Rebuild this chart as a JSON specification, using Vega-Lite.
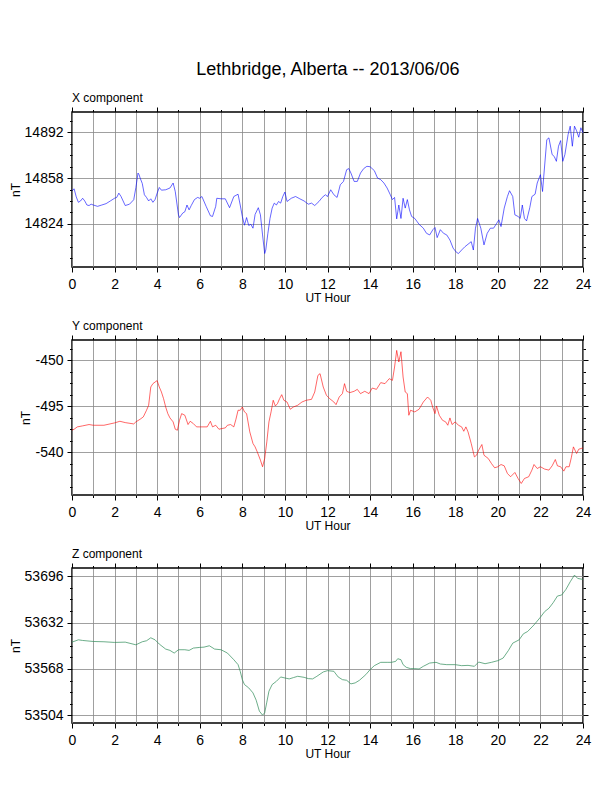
{
"$schema": "https://vega.github.io/schema/vega-lite/v6.json",
"padding": {"left": 8, "top": 60, "right": 5, "bottom": 5},
"background": "white",
"title": {"text": "Lethbridge, Alberta -- 2013/06/06", "font": "Liberation Sans", "fontSize": 18, "fontWeight": "normal", "color": "black", "anchor": "middle", "dx": 28, "offset": 12},
"spacing": 14,
"datasets": {
"X": [{"h":0,"v":14848.6},{"h":0.1,"v":14850},{"h":0.2,"v":14844},{"h":0.3,"v":14840},{"h":0.4,"v":14841},{"h":0.5,"v":14843},{"h":0.6,"v":14841},{"h":0.7,"v":14838},{"h":0.8,"v":14837.6},{"h":0.9,"v":14838.6},{"h":1.0,"v":14838},{"h":1.2,"v":14837},{"h":1.4,"v":14838},{"h":1.6,"v":14839},{"h":1.8,"v":14841},{"h":2.0,"v":14843},{"h":2.1,"v":14843.6},{"h":2.2,"v":14846.8},{"h":2.3,"v":14844.4},{"h":2.5,"v":14837.6},{"h":2.7,"v":14838.6},{"h":2.9,"v":14841.9},{"h":3.0,"v":14851},{"h":3.1,"v":14861.7},{"h":3.15,"v":14860.5},{"h":3.2,"v":14858},{"h":3.3,"v":14854},{"h":3.4,"v":14845.6},{"h":3.5,"v":14843.6},{"h":3.6,"v":14841},{"h":3.7,"v":14842.6},{"h":3.8,"v":14840},{"h":3.9,"v":14842},{"h":4.0,"v":14846.8},{"h":4.1,"v":14851},{"h":4.2,"v":14849},{"h":4.4,"v":14849.3},{"h":4.6,"v":14850.6},{"h":4.75,"v":14854.3},{"h":4.85,"v":14848},{"h":5.0,"v":14830.7},{"h":5.05,"v":14828.7},{"h":5.2,"v":14832},{"h":5.3,"v":14833},{"h":5.4,"v":14838},{"h":5.5,"v":14834.4},{"h":5.6,"v":14837.6},{"h":5.75,"v":14842},{"h":5.9,"v":14843.6},{"h":6.0,"v":14843},{"h":6.1,"v":14844.3},{"h":6.3,"v":14837},{"h":6.5,"v":14830},{"h":6.6,"v":14829.5},{"h":6.75,"v":14837},{"h":6.8,"v":14843},{"h":7.0,"v":14842.6},{"h":7.2,"v":14842.6},{"h":7.4,"v":14836},{"h":7.6,"v":14844.3},{"h":7.8,"v":14846},{"h":7.9,"v":14838},{"h":8.0,"v":14829.5},{"h":8.1,"v":14823},{"h":8.2,"v":14828.7},{"h":8.3,"v":14822.8},{"h":8.4,"v":14823.7},{"h":8.5,"v":14820.8},{"h":8.6,"v":14831},{"h":8.75,"v":14836},{"h":8.85,"v":14830.7},{"h":8.95,"v":14815.8},{"h":9.05,"v":14802},{"h":9.1,"v":14804.6},{"h":9.2,"v":14817},{"h":9.3,"v":14828},{"h":9.4,"v":14835.7},{"h":9.5,"v":14839.4},{"h":9.6,"v":14838},{"h":9.7,"v":14840.6},{"h":9.8,"v":14839.4},{"h":9.9,"v":14844.3},{"h":10.0,"v":14847.6},{"h":10.1,"v":14840.6},{"h":10.3,"v":14843},{"h":10.5,"v":14844.3},{"h":10.7,"v":14842.6},{"h":10.9,"v":14841},{"h":11.1,"v":14838.6},{"h":11.25,"v":14839.4},{"h":11.4,"v":14837.6},{"h":11.6,"v":14840.6},{"h":11.75,"v":14843.6},{"h":11.9,"v":14845.6},{"h":12.0,"v":14844.3},{"h":12.15,"v":14849.3},{"h":12.3,"v":14845.6},{"h":12.45,"v":14843.6},{"h":12.6,"v":14853},{"h":12.75,"v":14855.5},{"h":12.9,"v":14864.2},{"h":13.0,"v":14865},{"h":13.1,"v":14861.7},{"h":13.25,"v":14855.5},{"h":13.4,"v":14855.5},{"h":13.55,"v":14861.7},{"h":13.7,"v":14865},{"h":13.85,"v":14866.7},{"h":14.0,"v":14866.4},{"h":14.2,"v":14863.5},{"h":14.35,"v":14858},{"h":14.5,"v":14856.8},{"h":14.65,"v":14854.3},{"h":14.8,"v":14850.6},{"h":14.95,"v":14845.6},{"h":15.05,"v":14842},{"h":15.15,"v":14843.6},{"h":15.25,"v":14827.7},{"h":15.35,"v":14838},{"h":15.45,"v":14828},{"h":15.55,"v":14843},{"h":15.65,"v":14835.7},{"h":15.75,"v":14842},{"h":15.85,"v":14834.4},{"h":15.95,"v":14829.5},{"h":16.1,"v":14828},{"h":16.3,"v":14823.7},{"h":16.5,"v":14820.8},{"h":16.65,"v":14817},{"h":16.8,"v":14815.8},{"h":16.95,"v":14819.7},{"h":17.05,"v":14821.3},{"h":17.15,"v":14813.8},{"h":17.3,"v":14819.7},{"h":17.45,"v":14817},{"h":17.6,"v":14815.8},{"h":17.75,"v":14812},{"h":17.9,"v":14806},{"h":18.05,"v":14803},{"h":18.15,"v":14802},{"h":18.3,"v":14804.6},{"h":18.45,"v":14807},{"h":18.6,"v":14808.9},{"h":18.75,"v":14810.8},{"h":18.85,"v":14804.6},{"h":18.95,"v":14820.8},{"h":19.05,"v":14828},{"h":19.2,"v":14820.8},{"h":19.35,"v":14808.4},{"h":19.5,"v":14817},{"h":19.65,"v":14820.8},{"h":19.8,"v":14820.8},{"h":19.95,"v":14824.5},{"h":20.05,"v":14827},{"h":20.15,"v":14822},{"h":20.3,"v":14835.7},{"h":20.45,"v":14844.3},{"h":20.55,"v":14848.6},{"h":20.7,"v":14844.3},{"h":20.8,"v":14830.7},{"h":20.95,"v":14829.5},{"h":21.05,"v":14828},{"h":21.15,"v":14838},{"h":21.25,"v":14828},{"h":21.35,"v":14826.2},{"h":21.5,"v":14836},{"h":21.6,"v":14844.3},{"h":21.75,"v":14846},{"h":21.85,"v":14854.3},{"h":22.0,"v":14860.5},{"h":22.1,"v":14848},{"h":22.15,"v":14858},{"h":22.3,"v":14886.5},{"h":22.4,"v":14887.8},{"h":22.55,"v":14875.4},{"h":22.65,"v":14874},{"h":22.75,"v":14870.4},{"h":22.85,"v":14881.6},{"h":22.95,"v":14885.8},{"h":23.05,"v":14870.4},{"h":23.15,"v":14875.4},{"h":23.3,"v":14890.3},{"h":23.4,"v":14896.5},{"h":23.5,"v":14881.6},{"h":23.6,"v":14896.5},{"h":23.7,"v":14893},{"h":23.8,"v":14888.3},{"h":23.9,"v":14895.3},{"h":24.0,"v":14891.5}],
"Y": [{"h":0,"v":-518.5},{"h":0.1,"v":-517.5},{"h":0.25,"v":-515.2},{"h":0.5,"v":-514.2},{"h":0.8,"v":-512.9},{"h":1.0,"v":-513.6},{"h":1.5,"v":-513.6},{"h":2.0,"v":-511.3},{"h":2.25,"v":-509.7},{"h":2.5,"v":-511},{"h":2.9,"v":-512.3},{"h":3.0,"v":-510.3},{"h":3.2,"v":-507.7},{"h":3.35,"v":-505.4},{"h":3.5,"v":-498.9},{"h":3.6,"v":-494},{"h":3.7,"v":-476.1},{"h":3.8,"v":-472.8},{"h":3.95,"v":-470.5},{"h":4.0,"v":-469.9},{"h":4.1,"v":-476.1},{"h":4.2,"v":-481},{"h":4.3,"v":-487.5},{"h":4.4,"v":-495.7},{"h":4.5,"v":-502.2},{"h":4.6,"v":-506.4},{"h":4.75,"v":-510.3},{"h":4.85,"v":-517.5},{"h":4.95,"v":-518.5},{"h":5.05,"v":-508.7},{"h":5.15,"v":-502.2},{"h":5.3,"v":-503.8},{"h":5.45,"v":-512.9},{"h":5.55,"v":-509.7},{"h":5.7,"v":-512},{"h":5.85,"v":-515.2},{"h":6.0,"v":-515.2},{"h":6.2,"v":-515.2},{"h":6.35,"v":-515.2},{"h":6.5,"v":-509.7},{"h":6.6,"v":-515.2},{"h":6.75,"v":-513.6},{"h":6.9,"v":-517.5},{"h":7.05,"v":-516.8},{"h":7.2,"v":-516.2},{"h":7.3,"v":-513.6},{"h":7.45,"v":-512.9},{"h":7.6,"v":-515.2},{"h":7.7,"v":-507.7},{"h":7.8,"v":-498.9},{"h":7.9,"v":-498.9},{"h":8.0,"v":-495.7},{"h":8.1,"v":-500.5},{"h":8.2,"v":-502.2},{"h":8.35,"v":-520.1},{"h":8.5,"v":-531.5},{"h":8.6,"v":-534.8},{"h":8.7,"v":-539.7},{"h":8.85,"v":-547.8},{"h":8.95,"v":-554.3},{"h":9.05,"v":-546.2},{"h":9.15,"v":-529.9},{"h":9.25,"v":-510.3},{"h":9.35,"v":-500.5},{"h":9.45,"v":-489.1},{"h":9.55,"v":-494.7},{"h":9.65,"v":-492.4},{"h":9.75,"v":-487.5},{"h":9.85,"v":-483.6},{"h":9.95,"v":-489.1},{"h":10.1,"v":-490.8},{"h":10.25,"v":-497.9},{"h":10.4,"v":-495.7},{"h":10.6,"v":-494},{"h":10.8,"v":-490.8},{"h":11.0,"v":-489.1},{"h":11.25,"v":-488.2},{"h":11.4,"v":-481},{"h":11.55,"v":-464.7},{"h":11.65,"v":-463},{"h":11.8,"v":-476.1},{"h":11.95,"v":-484.2},{"h":12.1,"v":-487.5},{"h":12.3,"v":-490.8},{"h":12.4,"v":-493.4},{"h":12.55,"v":-485.9},{"h":12.7,"v":-482.6},{"h":12.8,"v":-472.8},{"h":12.9,"v":-480.3},{"h":13.05,"v":-481.6},{"h":13.25,"v":-480.3},{"h":13.4,"v":-478.4},{"h":13.55,"v":-482.6},{"h":13.75,"v":-480.3},{"h":13.95,"v":-482.6},{"h":14.1,"v":-477.1},{"h":14.3,"v":-478.4},{"h":14.5,"v":-471.8},{"h":14.7,"v":-472.8},{"h":14.9,"v":-467.9},{"h":15.05,"v":-469.6},{"h":15.15,"v":-456.5},{"h":15.25,"v":-440.2},{"h":15.35,"v":-451.6},{"h":15.45,"v":-441.5},{"h":15.55,"v":-466.3},{"h":15.65,"v":-481},{"h":15.75,"v":-482.6},{"h":15.82,"v":-503.8},{"h":15.9,"v":-498.9},{"h":16.1,"v":-500.5},{"h":16.3,"v":-497.9},{"h":16.5,"v":-490.8},{"h":16.7,"v":-485.9},{"h":16.85,"v":-489.1},{"h":16.95,"v":-496.6},{"h":17.05,"v":-502.2},{"h":17.12,"v":-494.7},{"h":17.25,"v":-503.8},{"h":17.4,"v":-508.7},{"h":17.55,"v":-510.3},{"h":17.65,"v":-513.6},{"h":17.75,"v":-506.4},{"h":17.85,"v":-512.9},{"h":18.0,"v":-510.3},{"h":18.15,"v":-513.6},{"h":18.3,"v":-515.2},{"h":18.4,"v":-519.5},{"h":18.5,"v":-515.2},{"h":18.6,"v":-520.1},{"h":18.75,"v":-531.5},{"h":18.9,"v":-544.6},{"h":19.0,"v":-543},{"h":19.1,"v":-538},{"h":19.25,"v":-532.5},{"h":19.35,"v":-543},{"h":19.55,"v":-546.2},{"h":19.7,"v":-551.1},{"h":19.85,"v":-555.3},{"h":20.0,"v":-554.3},{"h":20.15,"v":-552.1},{"h":20.3,"v":-553.4},{"h":20.45,"v":-560.9},{"h":20.6,"v":-564.1},{"h":20.8,"v":-559.9},{"h":20.95,"v":-565.8},{"h":21.1,"v":-570.7},{"h":21.25,"v":-565.8},{"h":21.45,"v":-564.1},{"h":21.6,"v":-557.6},{"h":21.7,"v":-552.1},{"h":21.85,"v":-556},{"h":22.0,"v":-554.3},{"h":22.2,"v":-556.6},{"h":22.4,"v":-557.6},{"h":22.55,"v":-553.4},{"h":22.7,"v":-547.2},{"h":22.8,"v":-553.4},{"h":22.95,"v":-554.3},{"h":23.1,"v":-558.6},{"h":23.2,"v":-554.3},{"h":23.35,"v":-554.3},{"h":23.45,"v":-545.5},{"h":23.55,"v":-534.8},{"h":23.7,"v":-541.3},{"h":23.8,"v":-537.1},{"h":24.0,"v":-535.8}],
"Z": [{"h":0,"v":53605.1},{"h":0.3,"v":53608.3},{"h":0.5,"v":53607.4},{"h":1.0,"v":53606},{"h":1.5,"v":53605.6},{"h":2.0,"v":53604.7},{"h":2.5,"v":53605.1},{"h":3.0,"v":53601.4},{"h":3.3,"v":53605.6},{"h":3.5,"v":53607},{"h":3.7,"v":53611.1},{"h":3.9,"v":53608.3},{"h":4.1,"v":53602.4},{"h":4.4,"v":53595.5},{"h":4.6,"v":53593.7},{"h":4.8,"v":53590},{"h":5.0,"v":53594.6},{"h":5.3,"v":53594.6},{"h":5.5,"v":53593.7},{"h":5.7,"v":53596.9},{"h":6.0,"v":53597.8},{"h":6.2,"v":53598.2},{"h":6.45,"v":53600.1},{"h":6.7,"v":53595.5},{"h":7.0,"v":53594.6},{"h":7.3,"v":53590},{"h":7.6,"v":53580.8},{"h":7.8,"v":53574},{"h":7.9,"v":53564.8},{"h":8.0,"v":53553.3},{"h":8.1,"v":53546.5},{"h":8.3,"v":53541.9},{"h":8.5,"v":53535},{"h":8.65,"v":53524.9},{"h":8.8,"v":53509.8},{"h":8.95,"v":53504.3},{"h":9.05,"v":53507.5},{"h":9.15,"v":53522.2},{"h":9.25,"v":53537.3},{"h":9.4,"v":53546.5},{"h":9.6,"v":53551},{"h":9.8,"v":53557},{"h":10.0,"v":53555.6},{"h":10.2,"v":53554.3},{"h":10.4,"v":53556.1},{"h":10.6,"v":53557.9},{"h":10.9,"v":53556.5},{"h":11.1,"v":53554.7},{"h":11.3,"v":53554.3},{"h":11.5,"v":53557.9},{"h":11.8,"v":53563.9},{"h":12.0,"v":53565.7},{"h":12.3,"v":53564.8},{"h":12.5,"v":53557},{"h":12.7,"v":53553.3},{"h":12.9,"v":53552.4},{"h":13.1,"v":53547.4},{"h":13.3,"v":53548.8},{"h":13.5,"v":53552.4},{"h":13.8,"v":53560.2},{"h":14.0,"v":53567.1},{"h":14.2,"v":53572.6},{"h":14.5,"v":53577.2},{"h":14.8,"v":53577.2},{"h":15.0,"v":53577.2},{"h":15.2,"v":53578.5},{"h":15.3,"v":53582.2},{"h":15.45,"v":53580.8},{"h":15.55,"v":53574},{"h":15.7,"v":53570.3},{"h":15.9,"v":53568.5},{"h":16.1,"v":53568.5},{"h":16.3,"v":53568},{"h":16.5,"v":53571.7},{"h":16.8,"v":53576.2},{"h":17.1,"v":53577.2},{"h":17.3,"v":53574.9},{"h":17.6,"v":53574},{"h":18.0,"v":53574},{"h":18.3,"v":53572.6},{"h":18.6,"v":53573},{"h":18.9,"v":53571.7},{"h":19.1,"v":53577.6},{"h":19.4,"v":53575.3},{"h":19.7,"v":53577.2},{"h":20.0,"v":53579.5},{"h":20.25,"v":53583.1},{"h":20.5,"v":53593.7},{"h":20.7,"v":53603.7},{"h":21.0,"v":53608.3},{"h":21.2,"v":53616.6},{"h":21.4,"v":53619.8},{"h":21.7,"v":53628.9},{"h":22.0,"v":53639.5},{"h":22.2,"v":53647.3},{"h":22.4,"v":53651.9},{"h":22.6,"v":53659.6},{"h":22.8,"v":53668.8},{"h":23.0,"v":53670.2},{"h":23.2,"v":53678},{"h":23.4,"v":53688.5},{"h":23.6,"v":53697.7},{"h":23.75,"v":53693.1},{"h":24.0,"v":53691.7}]
},
"vconcat": [
{
"title": {"text": "X component", "anchor": "start", "frame": "group", "font": "Liberation Sans", "fontSize": 12, "fontWeight": "normal", "color": "black", "baseline": "alphabetic", "offset": -7},
"width": 511, "height": 155,
"data": {"name": "X"},
"layer": [
{"mark": {"type": "line", "color": "#0000ff", "strokeWidth": 0.6},
"encoding": {
"x": {"field": "h", "type": "quantitative", "scale": {"domain": [0, 24], "nice": false},
"axis": {"orient": "bottom", "values": [0,1,2,3,4,5,6,7,8,9,10,11,12,13,14,15,16,17,18,19,20,21,22,23,24], "labelExpr": "datum.value % 2 === 0 ? '' + datum.value : ''", "tickSize": {"condition": {"test": "datum.value % 2 === 0", "value": 5}, "value": 2.5}, "grid": true, "title": "UT Hour", "labelPadding": 5, "titlePadding": 1}},
"y": {"field": "v", "type": "quantitative", "scale": {"domain": [14792, 14907], "nice": false, "zero": false},
"axis": {"orient": "left", "values": [14798.5,14807,14815.5,14824,14832.5,14841,14849.5,14858,14866.5,14875,14883.5,14892,14900.5], "labelExpr": "indexof([14824,14858,14892], datum.value) >= 0 ? '' + datum.value : ''", "tickSize": {"condition": {"test": "indexof([14824,14858,14892], datum.value) >= 0", "value": 5}, "value": 2.5}, "gridOpacity": {"condition": {"test": "indexof([14824,14858,14892], datum.value) >= 0", "value": 1}, "value": 0}, "grid": true, "title": "nT", "labelPadding": 4, "titlePadding": 2}}
}},
{"mark": {"type": "line", "opacity": 0},
"encoding": {
"x": {"field": "h", "type": "quantitative", "axis": {"orient": "top", "values": [0,1,2,3,4,5,6,7,8,9,10,11,12,13,14,15,16,17,18,19,20,21,22,23,24], "labels": false, "title": null, "grid": false, "tickSize": {"condition": {"test": "datum.value % 2 === 0", "value": 5}, "value": 2.5}}},
"y": {"field": "v", "type": "quantitative", "axis": {"orient": "right", "values": [14798.5,14807,14815.5,14824,14832.5,14841,14849.5,14858,14866.5,14875,14883.5,14892,14900.5], "labels": false, "title": null, "grid": false, "tickSize": {"condition": {"test": "indexof([14824,14858,14892], datum.value) >= 0", "value": 5}, "value": 2.5}}}
}}
]
},
{
"title": {"text": "Y component", "anchor": "start", "frame": "group", "font": "Liberation Sans", "fontSize": 12, "fontWeight": "normal", "color": "black", "baseline": "alphabetic", "offset": -7},
"width": 511, "height": 155,
"data": {"name": "Y"},
"layer": [
{"mark": {"type": "line", "color": "#ff0000", "strokeWidth": 0.6},
"encoding": {
"x": {"field": "h", "type": "quantitative", "scale": {"domain": [0, 24], "nice": false},
"axis": {"orient": "bottom", "values": [0,1,2,3,4,5,6,7,8,9,10,11,12,13,14,15,16,17,18,19,20,21,22,23,24], "labelExpr": "datum.value % 2 === 0 ? '' + datum.value : ''", "tickSize": {"condition": {"test": "datum.value % 2 === 0", "value": 5}, "value": 2.5}, "grid": true, "title": "UT Hour", "labelPadding": 5, "titlePadding": 1}},
"y": {"field": "v", "type": "quantitative", "scale": {"domain": [-582, -430], "nice": false, "zero": false},
"axis": {"orient": "left", "values": [-573.75,-562.5,-551.25,-540,-528.75,-517.5,-506.25,-495,-483.75,-472.5,-461.25,-450,-438.75], "labelExpr": "indexof([-540,-495,-450], datum.value) >= 0 ? '' + datum.value : ''", "tickSize": {"condition": {"test": "indexof([-540,-495,-450], datum.value) >= 0", "value": 5}, "value": 2.5}, "gridOpacity": {"condition": {"test": "indexof([-540,-495,-450], datum.value) >= 0", "value": 1}, "value": 0}, "grid": true, "title": "nT", "labelPadding": 4, "titlePadding": 2}}
}},
{"mark": {"type": "line", "opacity": 0},
"encoding": {
"x": {"field": "h", "type": "quantitative", "axis": {"orient": "top", "values": [0,1,2,3,4,5,6,7,8,9,10,11,12,13,14,15,16,17,18,19,20,21,22,23,24], "labels": false, "title": null, "grid": false, "tickSize": {"condition": {"test": "datum.value % 2 === 0", "value": 5}, "value": 2.5}}},
"y": {"field": "v", "type": "quantitative", "axis": {"orient": "right", "values": [-573.75,-562.5,-551.25,-540,-528.75,-517.5,-506.25,-495,-483.75,-472.5,-461.25,-450,-438.75], "labels": false, "title": null, "grid": false, "tickSize": {"condition": {"test": "indexof([-540,-495,-450], datum.value) >= 0", "value": 5}, "value": 2.5}}}
}}
]
},
{
"title": {"text": "Z component", "anchor": "start", "frame": "group", "font": "Liberation Sans", "fontSize": 12, "fontWeight": "normal", "color": "black", "baseline": "alphabetic", "offset": -7},
"width": 511, "height": 155,
"data": {"name": "Z"},
"layer": [
{"mark": {"type": "line", "color": "#2e8b57", "strokeWidth": 0.7},
"encoding": {
"x": {"field": "h", "type": "quantitative", "scale": {"domain": [0, 24], "nice": false},
"axis": {"orient": "bottom", "values": [0,1,2,3,4,5,6,7,8,9,10,11,12,13,14,15,16,17,18,19,20,21,22,23,24], "labelExpr": "datum.value % 2 === 0 ? '' + datum.value : ''", "tickSize": {"condition": {"test": "datum.value % 2 === 0", "value": 5}, "value": 2.5}, "grid": true, "title": "UT Hour", "labelPadding": 5, "titlePadding": 1}},
"y": {"field": "v", "type": "quantitative", "scale": {"domain": [53493.4, 53707.5], "nice": false, "zero": false},
"axis": {"orient": "left", "values": [53504,53520,53536,53552,53568,53584,53600,53616,53632,53648,53664,53680,53696], "labelExpr": "indexof([53504,53568,53632,53696], datum.value) >= 0 ? '' + datum.value : ''", "tickSize": {"condition": {"test": "indexof([53504,53568,53632,53696], datum.value) >= 0", "value": 5}, "value": 2.5}, "gridOpacity": {"condition": {"test": "indexof([53504,53568,53632,53696], datum.value) >= 0", "value": 1}, "value": 0}, "grid": true, "title": "nT", "labelPadding": 4, "titlePadding": 2}}
}},
{"mark": {"type": "line", "opacity": 0},
"encoding": {
"x": {"field": "h", "type": "quantitative", "axis": {"orient": "top", "values": [0,1,2,3,4,5,6,7,8,9,10,11,12,13,14,15,16,17,18,19,20,21,22,23,24], "labels": false, "title": null, "grid": false, "tickSize": {"condition": {"test": "datum.value % 2 === 0", "value": 5}, "value": 2.5}}},
"y": {"field": "v", "type": "quantitative", "axis": {"orient": "right", "values": [53504,53520,53536,53552,53568,53584,53600,53616,53632,53648,53664,53680,53696], "labels": false, "title": null, "grid": false, "tickSize": {"condition": {"test": "indexof([53504,53568,53632,53696], datum.value) >= 0", "value": 5}, "value": 2.5}}}
}}
]
}
],
"config": {
"font": "Liberation Sans",
"view": {"stroke": "black", "strokeWidth": 1.5},
"axis": {"domain": false, "tickColor": "black", "tickWidth": 1, "labelFont": "Liberation Sans", "labelFontSize": 14, "labelColor": "black", "titleFont": "Liberation Sans", "titleFontSize": 12, "titleFontWeight": "normal", "titleColor": "black", "gridColor": "#888888", "gridWidth": 0.8, "labelFlush": false, "labelOverlap": false}
}
}
